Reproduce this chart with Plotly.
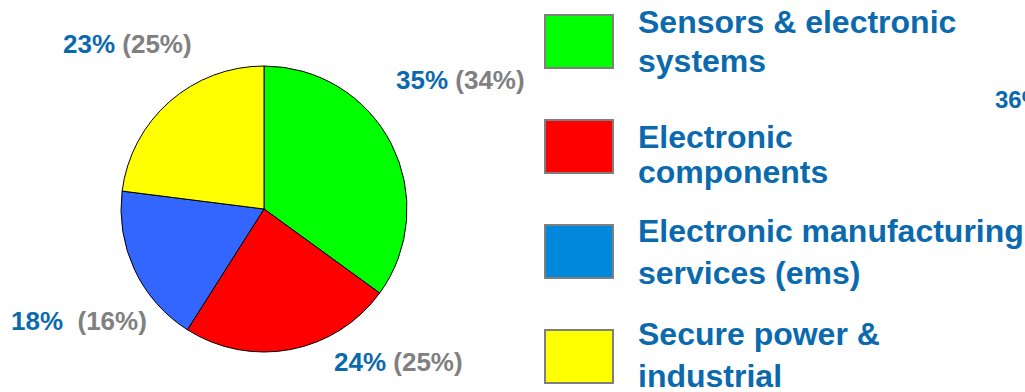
import plotly.graph_objects as go

categories = ["Sensors & electronic<br>systems", "Electronic<br>components",
              "Electronic manufacturing<br>services (ems)", "Secure power &<br>industrial"]
values = [35, 24, 18, 23]
prev_values = [34, 25, 16, 25]
pie_colors = ["#00FF00", "#FF0000", "#3366FF", "#FFFF00"]
legend_colors = ["#00FF00", "#FF0000", "#0088DD", "#FFFF00"]

BLUE = "#0B6AAE"
GREY = "#808080"
FONT = "Liberation Sans, Arial, sans-serif"

W, H = 1025, 392

def px(x):
    return x / W

def py(y):
    return 1 - y / H

fig = go.Figure()
fig.add_trace(go.Pie(
    labels=[c.replace("<br>", " ") for c in categories],
    values=values,
    sort=False,
    direction="clockwise",
    rotation=0,
    marker=dict(colors=pie_colors, line=dict(color="black", width=1)),
    textinfo="none",
    hoverinfo="label+percent",
    showlegend=False,
    domain=dict(x=[px(121), px(407)], y=[py(354), py(64)]),
))

# value labels (position in pixels of page)
label_pos = [(394, 80), (332, 362), (9, 321), (61, 44)]
gaps = ["&nbsp;", "&nbsp;", "&nbsp;&nbsp;", "&nbsp;"]
annotations = []
for v, pv, (x, y), g in zip(values, prev_values, label_pos, gaps):
    annotations.append(dict(
        x=px(x), y=py(y), xref="paper", yref="paper", xanchor="left", yanchor="middle",
        text=f"<b><span style='color:{BLUE}'>{v}%</span>{g}<span style='color:{GREY}'>({pv}%)</span></b>",
        showarrow=False, font=dict(family=FONT, size=26)))

# cut-off label at right edge
annotations.append(dict(x=px(993), y=py(100), xref="paper", yref="paper", xanchor="left",
                        yanchor="middle", text="<b>36%</b>", showarrow=False,
                        font=dict(family=FONT, size=24, color=BLUE)))

# manual legend
shapes = []
box_tops = [15, 120, 225, 330]
line_centers = [(22, 61), (137, 172), (231, 273), (334, 376)]
for cat, col, top, centers in zip(categories, legend_colors, box_tops, line_centers):
    shapes.append(dict(type="rect", xref="paper", yref="paper",
                       x0=px(545), x1=px(613), y0=py(top + 53), y1=py(top),
                       fillcolor=col, line=dict(color="#7F7F7F", width=2)))
    for line, yc in zip(cat.split("<br>"), centers):
        annotations.append(dict(x=px(636), y=py(yc), xref="paper", yref="paper",
                                xanchor="left", yanchor="middle", align="left",
                                text=f"<b>{line}</b>", showarrow=False,
                                font=dict(family=FONT, size=32, color=BLUE)))

fig.update_layout(
    width=W, height=H,
    margin=dict(l=0, r=0, t=0, b=0),
    paper_bgcolor="white", plot_bgcolor="white",
    annotations=annotations, shapes=shapes,
    showlegend=False,
)
fig.write_html("out.html")
